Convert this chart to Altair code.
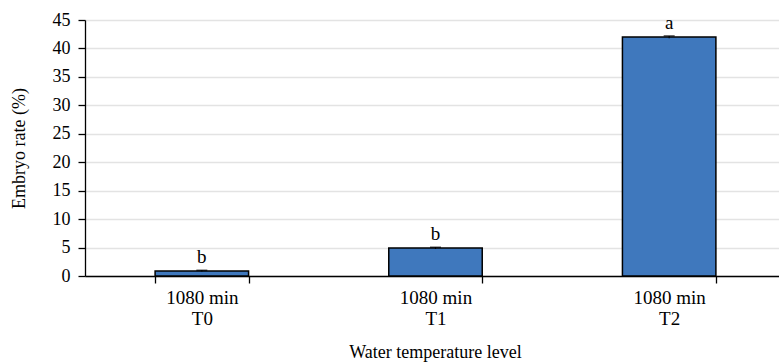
import altair as alt
import pandas as pd

# Treatment groups, mean embryo rate (%), standard error and significance letters
groups = ["1080 min|T0", "1080 min|T1", "1080 min|T2"]
rates = [0.9, 4.9, 42.0]
errors = [0.1, 0.15, 0.2]
letters = ["b", "b", "a"]
y_ticks = [0, 5, 10, 15, 20, 25, 30, 35, 40, 45]

df = pd.DataFrame({"group": groups, "rate": rates, "err": errors, "letter": letters})
df["hi"] = df["rate"] + df["err"]
df["lo"] = df["rate"] - df["err"]

FONT = "Liberation Serif"

x_axis = alt.Axis(
    labelExpr="split(datum.label, '|')",
    labelAngle=0,
    labelFont=FONT,
    labelFontSize=19,
    labelColor="#000000",
    labelLineHeight=21,
    labelPadding=5,
    tickBand="extent",
    tickSize=7,
    tickColor="#000000",
    tickWidth=1.3,
    domainColor="#000000",
    domainWidth=1.3,
    titleFont=FONT,
    titleFontSize=18,
    titleFontWeight="normal",
    titleColor="#000000",
    titleX=350,
    titleY=76,
    titleBaseline="middle",
    grid=False,
)

y_axis = alt.Axis(
    values=y_ticks,
    labelOverlap=False,
    labelFont=FONT,
    labelFontSize=18,
    labelColor="#000000",
    labelPadding=8,
    tickSize=7,
    tickColor="#000000",
    tickWidth=1.3,
    domainColor="#000000",
    domainWidth=1.3,
    gridColor="#e3e3e3",
    gridWidth=1.3,
    titleFont=FONT,
    titleFontSize=18,
    titleFontWeight="normal",
    titleColor="#000000",
    titleX=-66,
    titleY=128,
    titleAngle=-90,
    titleAlign="center",
    titleBaseline="middle",
)

# the category axis runs slightly past the right edge of the drawing area
x_scale = alt.Scale(paddingInner=0.6, paddingOuter=0.3, range=[0, 701])
y_scale = alt.Scale(domain=[0, 45], nice=False)

X = alt.X("group:N", sort=groups, title="Water temperature level", scale=x_scale, axis=x_axis)

bars = alt.Chart(df).mark_bar(
    color="#3f78bd", stroke="#000000", strokeWidth=1.5, width={"band": 1}
).encode(
    x=X,
    y=alt.Y("rate:Q", scale=y_scale, title="Embryo rate (%)", axis=y_axis),
)

err = alt.Chart(df).mark_rule(color="#000000", strokeWidth=1.2).encode(
    x=X,
    y=alt.Y("lo:Q", scale=y_scale, title="Embryo rate (%)", axis=y_axis),
    y2="hi:Q",
)

caps = alt.Chart(df).mark_tick(color="#000000", thickness=1.5, size=11, orient="horizontal").encode(
    x=X,
    y=alt.Y("hi:Q", scale=y_scale, title="Embryo rate (%)", axis=y_axis),
)

labels = alt.Chart(df).mark_text(
    font=FONT, fontSize=19, color="#000000", baseline="bottom", dy=-3
).encode(
    x=X,
    y=alt.Y("hi:Q", scale=y_scale, title="Embryo rate (%)", axis=y_axis),
    text="letter:N",
)

chart = (
    alt.layer(bars, err, caps, labels)
    .properties(
        width=694,
        height=256,
        autosize=alt.AutoSizeParams(type="none"),
        padding={"left": 85, "top": 20, "right": 0, "bottom": 86},
        background="#ffffff",
    )
    .configure_view(stroke=None)
)

chart.save("out.html", embed_options={"renderer": "svg", "actions": False})
